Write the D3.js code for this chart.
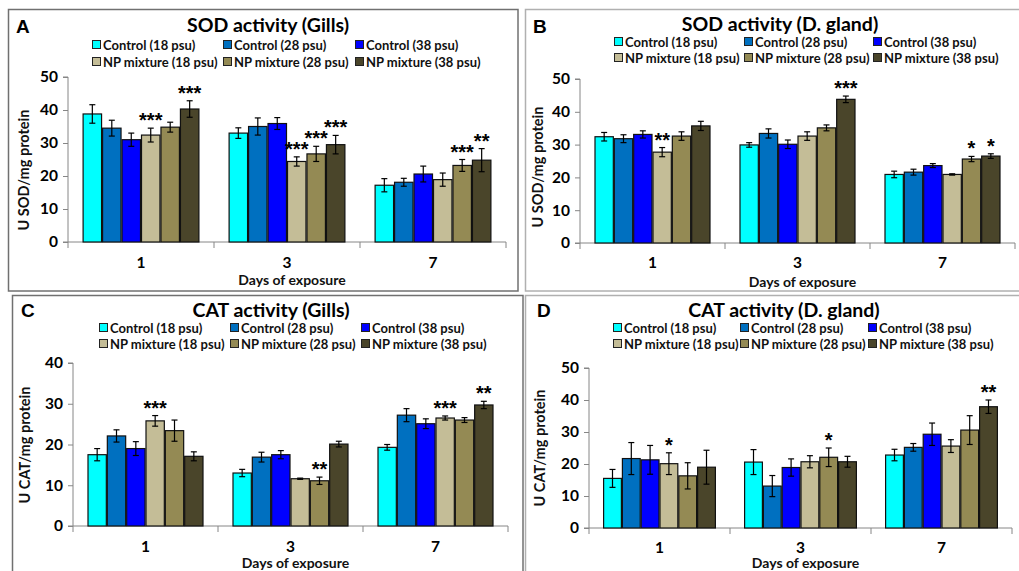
<!DOCTYPE html>
<html>
<head>
<meta charset="utf-8">
<script src="https://cdn.jsdelivr.net/npm/d3@7"></script>
<style>
  html, body { margin: 0; padding: 0; background: #fff; }
  svg { display: block; font-family: Lato, "Open Sans", sans-serif; }
</style>
</head>
<body>
<svg id="fig" width="1019" height="571"></svg>
<script>
// ---- data ----
const days = ["1", "3", "7"];
const groups = ["Control (18 psu)", "Control (28 psu)", "Control (38 psu)",
                "NP mixture (18 psu)", "NP mixture (28 psu)", "NP mixture (38 psu)"];
const groupColors = ["#00FFFF", "#0070C0", "#0000FF", "#C4BD97", "#948A54", "#4A452A"];

// SOD activity, gills (U SOD/mg protein); rows = day, columns = group
const sodGillsMean = [[38.8, 34.5, 31.0, 32.4, 34.8, 40.3],
                      [33.0, 35.0, 35.9, 24.4, 26.7, 29.5],
                      [17.2, 18.1, 20.6, 18.9, 23.2, 24.8]];
const sodGillsErr  = [[2.8, 2.4, 2.0, 2.1, 1.5, 2.5],
                      [1.6, 2.6, 1.8, 1.4, 2.3, 2.8],
                      [2.0, 1.2, 2.4, 2.0, 1.8, 3.5]];
const sodGillsSig  = [["", "", "", "***", "", "***"],
                      ["", "", "", "***", "***", "***"],
                      ["", "", "", "", "***", "**"]];

// SOD activity, digestive gland
const sodGlandMean = [[32.4, 31.8, 33.1, 27.7, 32.6, 35.7],
                      [29.9, 33.4, 30.1, 32.6, 35.1, 43.8],
                      [20.9, 21.6, 23.6, 20.9, 25.6, 26.5]];
const sodGlandErr  = [[1.3, 1.2, 1.1, 1.4, 1.3, 1.4],
                      [0.7, 1.4, 1.3, 1.3, 0.9, 1.0],
                      [1.0, 0.9, 0.6, 0.2, 0.8, 0.7]];
const sodGlandSig  = [["", "", "", "**", "", ""],
                      ["", "", "", "", "", "***"],
                      ["", "", "", "", "*", "*"]];

// CAT activity, gills
const catGillsMean = [[17.5, 22.1, 19.0, 25.8, 23.4, 17.1],
                      [13.0, 16.9, 17.5, 11.6, 11.1, 20.1],
                      [19.3, 27.2, 25.1, 26.5, 26.0, 29.7]];
const catGillsErr  = [[1.5, 1.5, 1.7, 1.3, 2.6, 1.1],
                      [0.9, 1.2, 1.0, 0.15, 0.9, 0.7],
                      [0.7, 1.6, 1.2, 0.5, 0.6, 0.9]];
const catGillsSig  = [["", "", "", "***", "", ""],
                      ["", "", "", "", "**", ""],
                      ["", "", "", "***", "", "**"]];

// CAT activity, digestive gland
const catGlandMean = [[15.5, 21.7, 21.3, 20.1, 16.3, 19.0],
                      [20.6, 13.1, 18.9, 20.7, 22.1, 20.7],
                      [22.8, 25.2, 29.3, 25.6, 30.6, 37.9]];
const catGlandErr  = [[2.8, 5.0, 4.5, 3.4, 4.1, 5.3],
                      [3.9, 3.3, 2.7, 1.9, 2.9, 1.7],
                      [1.8, 1.2, 3.5, 2.0, 4.5, 2.1]];
const catGlandSig  = [["", "", "", "*", "", ""],
                      ["", "", "", "", "*", ""],
                      ["", "", "", "", "", "**"]];

const yTicksSOD = [0, 10, 20, 30, 40, 50];
const yTicksCATGills = [0, 10, 20, 30, 40];
const yTicksCATGland = [0, 10, 20, 30, 40, 50];

// ---- layout ----
const svg = d3.select("#fig");

const panels = [
  { letter: "A", title: "SOD activity (Gills)", yLabel: "U SOD/mg protein",
    mean: sodGillsMean, err: sodGillsErr, sig: sodGillsSig, ticks: yTicksSOD,
    frame: [8.5, 9.5, 518, 291], frameColor: "#707070",
    letterX: 16, letterY: 33, titleX: 268, titleY: 32,
    legY: [45, 62], legX: [92, 223, 355],
    x0: 68, x1: 506, yBottom: 242, yTop: 77,
    yLabX: 23, yLabY: 170, catY: 268, xLabY: 285 },
  { letter: "B", title: "SOD activity (D. gland)", yLabel: "U SOD/mg protein",
    mean: sodGlandMean, err: sodGlandErr, sig: sodGlandSig, ticks: yTicksSOD,
    frame: [525.5, 9.5, 1030, 291], frameColor: "#b0b0b0",
    letterX: 533, letterY: 33, titleX: 780, titleY: 31,
    legY: [42, 58], legX: [614, 744, 873],
    x0: 580, x1: 1015, yBottom: 243, yTop: 79,
    yLabX: 537, yLabY: 167, catY: 268, xLabY: 287 },
  { letter: "C", title: "CAT activity (Gills)", yLabel: "U CAT/mg protein",
    mean: catGillsMean, err: catGillsErr, sig: catGillsSig, ticks: yTicksCATGills,
    frame: [12.5, 295.5, 523, 600], frameColor: "#707070",
    letterX: 21, letterY: 317, titleX: 271, titleY: 317,
    legY: [328, 344], legX: [99, 230, 361],
    x0: 73, x1: 508, yBottom: 526, yTop: 363,
    yLabX: 24, yLabY: 445, catY: 552, xLabY: 568 },
  { letter: "D", title: "CAT activity (D. gland)", yLabel: "U CAT/mg protein",
    mean: catGlandMean, err: catGlandErr, sig: catGlandSig, ticks: yTicksCATGland,
    frame: [525.5, 295.5, 1030, 600], frameColor: "#b0b0b0",
    letterX: 537, letterY: 317, titleX: 784, titleY: 317,
    legY: [328, 344], legX: [613, 740, 868],
    x0: 589, x1: 1012, yBottom: 528, yTop: 368,
    yLabX: 539, yLabY: 448, catY: 553, xLabY: 568 }
];

const axisColor = "#868686";

panels.forEach(p => {
  const g = svg.append("g");

  // panel frame
  const [fx0, fy0, fx1, fy1] = p.frame;
  g.append("rect")
    .attr("x", fx0).attr("y", fy0)
    .attr("width", fx1 - fx0).attr("height", fy1 - fy0)
    .attr("fill", "none").attr("stroke", p.frameColor).attr("stroke-width", 1.5);

  // panel letter and title
  g.append("text").attr("x", p.letterX).attr("y", p.letterY)
    .attr("font-family", "Liberation Sans, Arial, sans-serif")
    .attr("font-weight", "bold").attr("font-size", 19).attr("fill", "#000")
    .text(p.letter);
  g.append("text").attr("x", p.titleX).attr("y", p.titleY)
    .attr("text-anchor", "middle").attr("font-weight", "bold")
    .attr("font-size", 19.5).attr("fill", "#000").text(p.title);

  // legend (2 rows x 3 columns)
  groups.forEach((name, i) => {
    const row = Math.floor(i / 3), col = i % 3;
    const lx = p.legX[col], ly = p.legY[row];
    g.append("rect").attr("x", lx + 0.5).attr("y", ly - 4.5)
      .attr("width", 8).attr("height", 8)
      .attr("fill", groupColors[i]).attr("stroke", "#222").attr("stroke-width", 1);
    g.append("text").attr("x", lx + 11).attr("y", ly + 4.5)
      .attr("font-weight", "bold").attr("font-size", 13).attr("fill", "#111")
      .text(name);
  });

  // scales
  const yMax = p.ticks[p.ticks.length - 1];
  const y = d3.scaleLinear().domain([0, yMax]).range([p.yBottom, p.yTop]);
  const x0 = d3.scaleBand().domain(days).range([p.x0, p.x1]).paddingInner(0).paddingOuter(0);
  const bw = x0.bandwidth();
  const x1 = d3.scaleBand().domain(d3.range(groups.length))
    .range([bw * 0.1, bw * 0.9]).paddingInner(0);

  // y axis
  const yAxis = d3.axisLeft(y).tickValues(p.ticks).tickSize(5).tickPadding(5);
  const ya = g.append("g").attr("transform", `translate(${p.x0},0)`).call(yAxis);
  ya.select(".domain").attr("stroke", axisColor);
  ya.selectAll(".tick line").attr("stroke", axisColor);
  ya.selectAll(".tick text").attr("font-family", "Lato, sans-serif")
    .attr("font-weight", "bold").attr("font-size", 15.5).attr("fill", "#000");
  ya.select(".domain").attr("d", `M-5,${y(yMax)}H0V${y(0)}H-5`);

  // x axis: category labels centred, tick marks on category boundaries
  const xa = g.append("g").attr("transform", `translate(0,${p.yBottom})`);
  xa.append("line").attr("x1", p.x0).attr("x2", p.x1).attr("y1", 0).attr("y2", 0)
    .attr("stroke", axisColor);
  const bounds = days.map(d => x0(d)).concat([p.x1]);
  xa.selectAll("line.bound").data(bounds).join("line").attr("class", "bound")
    .attr("x1", d => d).attr("x2", d => d).attr("y1", 0).attr("y2", 6)
    .attr("stroke", axisColor);
  g.selectAll("text.cat").data(days).join("text").attr("class", "cat")
    .attr("x", d => x0(d) + bw / 2).attr("y", p.catY)
    .attr("text-anchor", "middle").attr("font-weight", "bold").attr("font-size", 15.5)
    .attr("fill", "#000").text(d => d);

  // axis titles
  g.append("text").attr("x", (p.x0 + p.x1) / 2 + 5).attr("y", p.xLabY)
    .attr("text-anchor", "middle").attr("font-weight", "bold").attr("font-size", 14)
    .attr("fill", "#111").text("Days of exposure");
  g.append("text")
    .attr("transform", `translate(${p.yLabX},${p.yLabY}) rotate(-90)`)
    .attr("text-anchor", "middle").attr("dominant-baseline", "central")
    .attr("font-weight", "bold").attr("font-size", 14.5).attr("fill", "#111")
    .text(p.yLabel);

  // bars, error bars, significance marks
  const cells = [];
  days.forEach((d, di) => groups.forEach((gname, gi) => {
    cells.push({ day: d, gi, v: p.mean[di][gi], e: p.err[di][gi], s: p.sig[di][gi] });
  }));
  const cell = g.selectAll("g.cell").data(cells).join("g").attr("class", "cell")
    .attr("transform", c => `translate(${x0(c.day) + x1(c.gi)},0)`);
  const w = x1.bandwidth();
  cell.append("rect")
    .attr("x", 0.5).attr("y", c => y(c.v))
    .attr("width", w - 1).attr("height", c => y(0) - y(c.v))
    .attr("fill", c => groupColors[c.gi]).attr("stroke", "#111").attr("stroke-width", 1.2);
  const cx = w / 2;
  cell.append("line").attr("x1", cx).attr("x2", cx)
    .attr("y1", c => y(c.v - c.e)).attr("y2", c => y(c.v + c.e))
    .attr("stroke", "#000").attr("stroke-width", 1.2);
  cell.append("line").attr("x1", cx - 3).attr("x2", cx + 3)
    .attr("y1", c => y(c.v + c.e)).attr("y2", c => y(c.v + c.e))
    .attr("stroke", "#000").attr("stroke-width", 1.2);
  cell.append("line").attr("x1", cx - 3).attr("x2", cx + 3)
    .attr("y1", c => y(c.v - c.e)).attr("y2", c => y(c.v - c.e))
    .attr("stroke", "#000").attr("stroke-width", 1.2);
  cell.filter(c => c.s).append("text")
    .attr("x", cx).attr("y", c => y(c.v + c.e) - 1)
    .attr("text-anchor", "middle").attr("font-family", "Liberation Sans, Arial, sans-serif")
    .attr("font-weight", "bold").attr("font-size", 20).attr("fill", "#000")
    .text(c => c.s);
});
</script>
</body>
</html>
